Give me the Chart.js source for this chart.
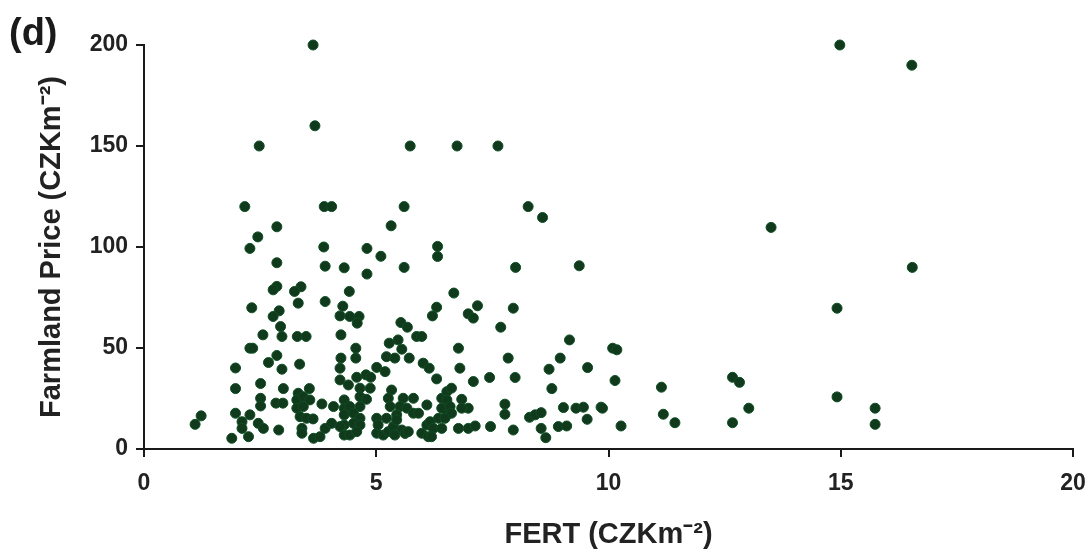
<!DOCTYPE html>
<html lang="en">
<head>
  <meta charset="UTF-8" />
  <title>Farmland Price vs FERT (d)</title>
  <script src="https://cdn.jsdelivr.net/npm/chart.js"></script>
  <style>
    * { margin: 0; padding: 0; box-sizing: border-box; }
    body { background: #fff; width: 1090px; height: 552px; overflow: hidden; }
    #wrap { position: relative; width: 1090px; height: 552px; }
  </style>
</head>
<body>
  <div id="wrap">
    <canvas id="scatter" width="1090" height="552"></canvas>
  </div>

  <script>
    // values
    const fert = [
      3.64, 3.68, 2.48, 5.73, 6.74, 7.62, 14.98, 16.53,
      2.17, 3.88, 4.04, 2.86, 2.45, 2.28, 3.87, 4.80, 5.10, 2.86, 3.90, 4.31,
      4.80, 2.86, 2.78, 3.38, 3.24, 4.42, 3.32, 3.90, 2.32, 2.91, 2.78, 4.28,
      4.22, 4.43, 4.63, 4.59, 2.94, 2.56, 2.97, 3.30, 3.49, 4.24, 2.28, 2.34,
      4.56, 4.56, 2.86, 2.68, 2.97, 3.35, 4.24, 1.97, 4.22, 4.22, 4.58, 4.78,
      4.88, 5.01, 1.97, 2.51, 3.00, 3.32, 3.56, 4.40, 4.65, 4.87, 2.51, 2.51,
      2.84, 2.99, 3.29, 3.43, 3.57, 3.29, 3.43, 3.36, 3.50, 3.64, 3.83, 4.08,
      4.31, 4.31, 4.43, 4.31, 4.65, 4.79, 4.65, 4.51, 4.65, 4.51, 4.65, 4.31,
      4.31, 4.43, 4.58, 5.01, 5.01, 1.23, 1.10, 1.97, 2.28, 2.11, 2.11, 1.89,
      2.25, 2.46, 2.57, 2.90, 3.40, 3.40, 3.65, 3.79, 3.90, 4.04, 4.22,
      6.30, 6.21, 7.18, 6.98, 7.09, 7.95, 7.68, 9.16, 5.53, 5.67, 5.87, 5.98,
      5.28, 5.47, 5.55, 5.71, 5.22, 5.40, 6.77, 7.84, 6.01, 6.14, 6.80, 5.19,
      6.30, 7.09, 7.44, 7.99, 8.72, 8.96, 9.55, 8.78, 5.33, 5.58, 5.26, 5.80,
      5.51, 5.30, 5.66, 5.80, 5.91, 5.44, 5.22, 6.09, 6.41, 6.52, 6.62, 6.52,
      6.41, 6.59, 6.52, 6.62, 6.84, 6.98, 6.84, 5.04, 5.15, 5.26, 5.37, 5.44,
      5.55, 5.62, 5.69, 5.40, 5.98, 6.09, 6.16, 6.23, 6.34, 6.41, 6.12, 6.19,
      6.48, 6.77, 6.98, 7.13, 7.46, 7.77, 7.77, 7.95, 8.30, 8.42, 8.55, 8.55,
      8.65, 8.92, 9.10, 9.03, 9.30, 9.46, 9.84, 9.54,
      5.60, 5.32, 6.32, 6.32, 5.60, 8.27, 8.58, 8.00, 9.37, 6.67,
      14.92, 10.09, 10.18, 10.14, 9.87, 10.27, 11.14, 11.18, 11.43, 12.67,
      12.82, 13.02, 12.67, 14.92, 15.74, 15.74, 13.50, 16.54
    ];
    const price = [
      200, 160, 150, 150, 150, 150, 200, 190,
      120, 120, 120, 110, 105, 99.3, 100, 99.3, 95.4, 92.2, 90.5, 89.7,
      86.6, 80.5, 78.8, 80.3, 78.0, 78.0, 72.2, 73.0, 69.9, 68.4, 65.6, 70.7,
      65.9, 65.6, 65.6, 62.3, 60.6, 56.5, 55.7, 55.7, 55.7, 56.5, 49.9, 49.9,
      49.9, 45.0, 46.3, 42.8, 39.5, 42.0, 45.0, 40.1, 40.0, 34.2, 35.5, 36.7,
      35.5, 40.4, 29.9, 32.4, 29.9, 27.6, 29.9, 31.7, 30.1, 30.1, 25.1, 21.3,
      22.7, 22.7, 24.3, 25.9, 24.3, 20.2, 21.0, 16.0, 15.2, 14.9, 22.3, 21.0,
      24.3, 20.2, 21.0, 16.9, 25.9, 24.6, 21.0, 17.7, 15.2, 12.7, 11.9, 11.9,
      6.9, 6.9, 8.6, 15.2, 7.8, 16.4, 12.2, 17.7, 16.9, 13.5, 10.2, 5.3,
      6.1, 12.7, 10.2, 9.4, 10.2, 7.8, 5.3, 6.1, 10.2, 12.7, 11.1,
      70.2, 65.9, 70.9, 66.9, 64.8, 69.7, 60.3, 54.0, 62.6, 60.3, 55.7, 55.7,
      52.4, 54.0, 49.4, 45.0, 45.7, 45.0, 49.9, 45.0, 42.5, 40.0, 40.0, 38.3,
      34.7, 33.4, 35.4, 35.4, 39.5, 45.0, 40.3, 29.9, 29.2, 25.1, 25.1, 25.1,
      21.0, 21.0, 20.2, 17.7, 17.7, 16.9, 15.2, 21.8, 25.1, 28.4, 30.1, 24.3,
      20.2, 21.0, 16.9, 17.7, 24.6, 20.2, 20.2, 11.9, 6.9, 8.6, 11.1, 14.4,
      9.4, 7.7, 8.6, 6.9, 7.8, 11.9, 13.5, 10.2, 15.2, 10.2, 6.1, 6.1,
      15.2, 10.2, 10.2, 11.4, 11.1, 22.2, 17.2, 9.4, 15.7, 16.9, 18.0, 10.2,
      5.6, 11.1, 11.4, 20.5, 20.2, 20.7, 20.7, 14.7,
      120, 110.5, 100.3, 95.3, 89.9, 120, 114.6, 89.9, 90.7, 77.2,
      69.7, 49.9, 49.1, 33.9, 20.2, 11.4, 30.6, 17.2, 13.0, 35.5,
      33.0, 20.2, 13.0, 25.8, 20.2, 12.2, 109.7, 89.9
    ];
    const xTicks = [0, 5, 10, 15, 20];
    const yTicks = [0, 50, 100, 150, 200];
    const panelLabel = '(d)';
    const xTitle = 'FERT (CZKm\u207B\u00B2)';
    const yTitle = 'Farmland Price (CZKm\u207B\u00B2)';

    const points = fert.map((x, i) => ({ x: x, y: price[i] }));

    const fontFam = "'Liberation Sans', Arial, Helvetica, sans-serif";
    const axisColor = '#1a1a1a';

    // draws the "(d)" panel letter in the top left corner
    const panelPlugin = {
      id: 'panelLabel',
      afterDraw(chart) {
        const c = chart.ctx;
        c.save();
        c.font = 'bold 38px ' + fontFam;
        c.fillStyle = '#1a1a1a';
        c.textBaseline = 'alphabetic';
        c.textAlign = 'left';
        c.fillText(panelLabel, 9, 45);
        c.restore();
      }
    };

    const ctx = document.getElementById('scatter').getContext('2d');
    new Chart(ctx, {
      type: 'scatter',
      data: {
        datasets: [{
          data: points,
          backgroundColor: '#113a1d',
          borderColor: '#0d4d22',
          borderWidth: 1,
          pointRadius: 5,
          pointHoverRadius: 5,
          clip: false
        }]
      },
      options: {
        responsive: false,
        animation: false,
        layout: { padding: { top: 45, right: 17, left: 0, bottom: 0 } },
        plugins: {
          legend: { display: false },
          tooltip: { enabled: false }
        },
        scales: {
          x: {
            type: 'linear',
            min: 0,
            max: 20,
            afterBuildTicks: s => { s.ticks = xTicks.map(v => ({ value: v })); },
            afterFit: s => {
              s.height = 103;
              // let layout padding alone decide the plot edges
              s.paddingLeft = 0;
              s.paddingRight = 0;
            },
            border: { display: true, color: axisColor, width: 2 },
            grid: { drawOnChartArea: false, drawTicks: true, tickLength: 8, color: axisColor, lineWidth: 2 },
            ticks: { color: '#222', padding: 13, font: { family: fontFam, size: 23, weight: 'bold' } },
            title: {
              display: true,
              text: xTitle,
              color: '#222',
              padding: { top: 0, bottom: 0 },
              font: { family: fontFam, size: 29, weight: 'bold' }
            }
          },
          y: {
            min: 0,
            max: 200,
            afterBuildTicks: s => { s.ticks = yTicks.map(v => ({ value: v })); },
            afterFit: s => {
              s.width = 144;
              s.paddingTop = 0;
              s.paddingBottom = 0;
            },
            border: { display: true, color: axisColor, width: 2 },
            grid: { drawOnChartArea: false, drawTicks: true, tickLength: 8, color: axisColor, lineWidth: 2 },
            ticks: { color: '#222', padding: 8, font: { family: fontFam, size: 23, weight: 'bold' } },
            title: {
              display: true,
              text: yTitle,
              color: '#222',
              padding: { top: 35, bottom: 0 },
              font: { family: fontFam, size: 29, weight: 'bold' }
            }
          }
        }
      },
      plugins: [panelPlugin]
    });
  </script>
</body>
</html>
